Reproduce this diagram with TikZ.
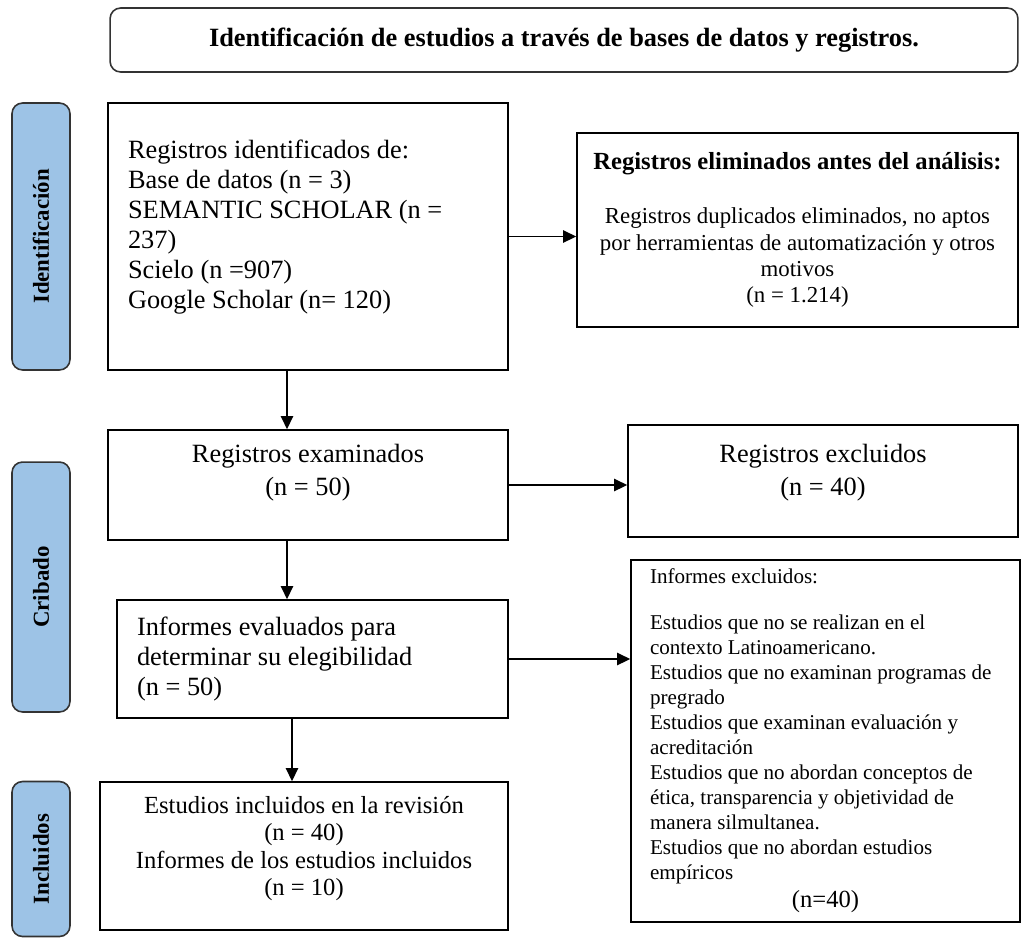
\documentclass[tikz,border=0pt]{standalone}
\usepackage{fontspec}
\setmainfont{Liberation Serif}
\usepackage{tikz}
\usetikzlibrary{shapes,arrows,arrows.meta,positioning,calc}

\definecolor{phaseblue}{HTML}{9DC3E6}

\begin{document}
\begin{tikzpicture}[
    x=0.02cm, y=-0.02cm,
    box/.style={rectangle, draw=black, line width=0.9pt, align=center, font=\fontsize{15}{17}\selectfont},
    phase/.style={rectangle, rounded corners=6pt, draw=black!80, line width=0.9pt, fill=phaseblue, rotate=90, minimum height=1.16cm, font=\fontsize{13}{15}\selectfont\bfseries},
    arrow/.style={->, >={Triangle[length=7.5pt,width=7pt]}, line width=0.9pt}
]
\useasboundingbox (0,0) rectangle (1023,938);

% Title
\node[box, rounded corners=6pt, draw=black!80, minimum width=18.16cm, minimum height=1.28cm, font=\fontsize{15}{17}\selectfont\bfseries] (title) at (564,40) {Identificación de estudios a través de bases de datos y registros.};

% Phase labels (left)
\node[phase, minimum width=5.34cm] (p_ident) at (41,236.5) {Identificación};
\node[phase, minimum width=5cm] (p_crib) at (41,587) {Cribado};
\node[phase, minimum width=3.1cm] (p_incl) at (41,859) {Incluidos};

% Identification
\node[box, minimum width=8cm, minimum height=5.34cm, text width=7.2cm, align=flush left, inner xsep=0.4cm] (ident) at (308,236.5) {Registros identificados de:\\
Base de datos (n = 3)\\
SEMANTIC SCHOLAR (n =\\
237)\\
Scielo (n =907)\\
Google Scholar (n= 120)\\[-3pt]\mbox{}};

\node[box, minimum width=8.82cm, minimum height=3.88cm, font=\fontsize{13}{15}\selectfont] (elim) at (797.5,230) {{\fontsize{14}{16}\selectfont\bfseries Registros eliminados antes del análisis:}\\[16pt]
Registros duplicados eliminados, no aptos\\
por herramientas de automatización y otros\\
motivos\\
(n = 1.214)};

% Screening
\node[box, minimum width=8cm, minimum height=2.2cm] (exam) at (308,485) {Registros examinados\\[2pt](n = 50)\\};
\node[box, minimum width=7.8cm, minimum height=2.24cm] (excl) at (823,481) {Registros excluidos\\[2pt](n = 40)\\[-4pt]};

\node[box, minimum width=7.82cm, minimum height=2.36cm, text width=7.02cm, align=flush left, inner xsep=0.4cm] (eval) at (312.5,659) {Informes evaluados para\\
determinar su elegibilidad\\
(n = 50)};

\node[box, minimum width=7.7cm, minimum height=7.24cm, text width=7.02cm, align=flush left, inner xsep=0.38cm, font=\fontsize{12}{14.2}\selectfont] (infexcl) at (825.5,741) {Informes excluidos:\\[12pt]
Estudios que no se realizan en el\\
contexto Latinoamericano.\\
Estudios que no examinan programas de\\
pregrado\\
Estudios que examinan evaluación y\\
acreditación\\
Estudios que no abordan conceptos de\\
ética, transparencia y objetividad de\\
manera silmultanea.\\
Estudios que no abordan estudios\\
empíricos\\[2pt]
\makebox[7.02cm]{\fontsize{14}{16}\selectfont (n=40)}};

% Included
\node[box, minimum width=8.16cm, minimum height=2.96cm, font=\fontsize{14}{15.5}\selectfont] (incl) at (304,856) {Estudios incluidos en la revisión\\
(n = 40)\\
Informes de los estudios incluidos\\
(n = 10)\\[-4pt]};

% Connectors
\draw[arrow] (ident.east) -- (ident.east -| elim.west);
\draw[arrow] ([xshift=-0.42cm]ident.south) -- ([xshift=-0.42cm]ident.south |- exam.north);
\draw[arrow] (exam.east) -- (exam.east -| excl.west);
\draw[arrow] ([xshift=-0.42cm]exam.south) -- ([xshift=-0.42cm]exam.south |- eval.north);
\draw[arrow] (eval.east) -- (eval.east -| infexcl.west);
\draw[arrow] ([xshift=-0.41cm]eval.south) -- ([xshift=-0.41cm]eval.south |- incl.north);

\end{tikzpicture}
\end{document}
